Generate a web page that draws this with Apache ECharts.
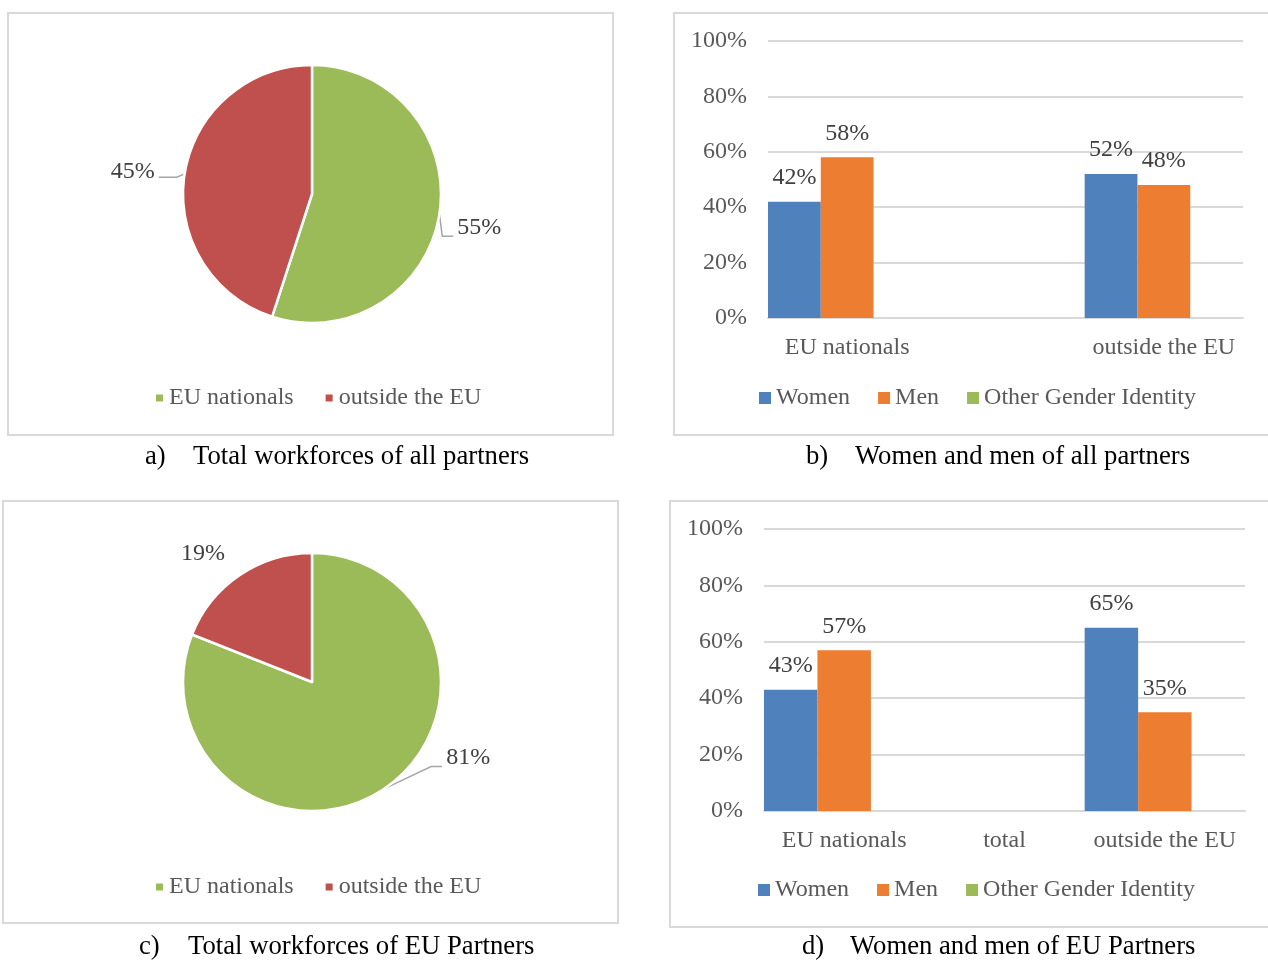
<!DOCTYPE html>
<html>
<head>
<meta charset="utf-8">
<title>Workforce composition of partners</title>
<script src="https://cdn.jsdelivr.net/npm/echarts@6/dist/echarts.min.js"></script>
<style>
  html, body { margin: 0; padding: 0; background: #ffffff; }
  #chart { width: 1268px; height: 961px; }
</style>
</head>
<body>
<div id="chart"></div>
<script>
// ---- data ----
const originNames = ['EU nationals', 'outside the EU'];
const allPartnersShare = [55, 45];   // a) total workforces of all partners
const euPartnersShare = [81, 19];    // c) total workforces of EU partners

const genderNames = ['Women', 'Men', 'Other Gender Identity'];
const allPartnersCategories = ['EU nationals', '', 'outside the EU'];
const allWomen = [42, null, 52];
const allMen = [58, null, 48];
const allOther = [null, null, null];

const euPartnersCategories = ['EU nationals', 'total', 'outside the EU'];
const euWomen = [43, null, 65];
const euMen = [57, null, 35];
const euOther = [null, null, null];

const yTicks = [0, 20, 40, 60, 80, 100];

// ---- styling ----
const FONT = "'Liberation Serif', 'Times New Roman', serif";
const FS = 24;
const AXIS_TEXT = '#595959';
const VALUE_TEXT = '#404040';
const GRID_LINE = '#d9d9d9';
const GREEN = '#9bbb59';
const RED = '#c0504d';
const BLUE = '#4f81bd';
const ORANGE = '#ed7d31';

// Offsets applied to the default outside pie labels, plus an elbow leader line.
function pieLabelLayout(shifts) {
  return function (p) {
    const s = shifts[p.dataIndex];
    const r = p.labelRect;
    const left = r.x + s[0];
    const right = r.x + r.width + s[0];
    const midY = r.y + r.height / 2 + s[1];
    const out = { dx: s[0], dy: s[1] };
    const pts = p.labelLinePoints;
    if (pts && pts.length) {
      const edge = pts[0];
      const onRight = pts[pts.length - 1][0] >= edge[0];
      out.labelLinePoints = onRight
        ? [edge, [left - 15, midY + 8.5], [left - 4, midY + 8.5]]
        : [edge, [right + 22, midY + 6], [right + 4, midY + 6]];
    }
    return out;
  };
}

function pieSeries(values, center, shifts, hideLine) {
  return {
    type: 'pie',
    center: center,
    radius: 129,
    startAngle: 90,
    clockwise: true,
    avoidLabelOverlap: false,
    silent: true,
    data: originNames.map((n, i) => ({
      name: n,
      value: values[i],
      itemStyle: { color: i === 0 ? GREEN : RED },
      labelLine: { show: !(hideLine && hideLine[i]) }
    })),
    itemStyle: { borderColor: '#ffffff', borderWidth: 2.5 },
    label: {
      show: true,
      position: 'outside',
      formatter: '{c}%',
      fontFamily: FONT,
      fontSize: FS,
      color: VALUE_TEXT
    },
    labelLine: {
      show: true,
      length: 10,
      length2: 8,
      lineStyle: { color: '#a6a6a6', width: 1.5 }
    },
    labelLayout: pieLabelLayout(shifts)
  };
}

function barSeries(name, data, color, gridIdx) {
  return {
    type: 'bar',
    name: name,
    xAxisIndex: gridIdx,
    yAxisIndex: gridIdx,
    data: data,
    barGap: '0%',
    barCategoryGap: '0%',
    itemStyle: { color: color },
    silent: true,
    label: {
      show: true,
      position: 'top',
      distance: 12,
      formatter: '{c}%',
      fontFamily: FONT,
      fontSize: FS,
      color: VALUE_TEXT
    }
  };
}

function categoryAxis(cats, gridIdx) {
  return {
    type: 'category',
    gridIndex: gridIdx,
    data: cats,
    axisTick: { show: false },
    axisLine: { lineStyle: { color: GRID_LINE, width: 2 } },
    axisLabel: { fontFamily: FONT, fontSize: FS, color: AXIS_TEXT, margin: 18, interval: 0 }
  };
}

function valueAxis(gridIdx) {
  return {
    type: 'value',
    gridIndex: gridIdx,
    min: yTicks[0],
    max: yTicks[yTicks.length - 1],
    interval: yTicks[1] - yTicks[0],
    axisLine: { show: false },
    axisTick: { show: false },
    splitLine: { lineStyle: { color: GRID_LINE, width: 2 } },
    axisLabel: { fontFamily: FONT, fontSize: FS, color: AXIS_TEXT, margin: 21, formatter: '{value}%' }
  };
}

function pieLegend(left, top) {
  return {
    left: left, top: top, padding: 0, orient: 'horizontal',
    data: originNames, icon: 'rect', itemWidth: 9, itemHeight: 9, itemGap: 30,
    selectedMode: false,
    textStyle: { fontFamily: FONT, fontSize: FS, color: AXIS_TEXT }
  };
}

function barLegend(left, top) {
  return {
    left: left, top: top, padding: 0, orient: 'horizontal',
    data: genderNames, icon: 'rect', itemWidth: 12, itemHeight: 12, itemGap: 28,
    selectedMode: false,
    textStyle: { fontFamily: FONT, fontSize: FS, color: AXIS_TEXT }
  };
}

function panelFrame(x, y, w, h) {
  return {
    type: 'rect', silent: true,
    shape: { x: x, y: y, width: w, height: h },
    style: { fill: 'none', stroke: '#d9d9d9', lineWidth: 2 }
  };
}

function caption(tag, tagX, text, textX, y) {
  const st = { fontFamily: FONT, fontSize: 26.7, fill: '#000000', verticalAlign: 'middle', align: 'left' };
  return [
    { type: 'text', silent: true, x: tagX, y: y, style: Object.assign({ text: tag }, st) },
    { type: 'text', silent: true, x: textX, y: y, style: Object.assign({ text: text }, st) }
  ];
}

const chart = echarts.init(document.getElementById('chart'), null, { renderer: 'canvas' });

chart.setOption({
  animation: false,
  backgroundColor: '#ffffff',
  graphic: [
    panelFrame(8, 13, 605, 422),
    panelFrame(674, 13, 600, 422),
    panelFrame(3, 501, 615, 422),
    panelFrame(670, 501, 604, 426)
  ].concat(
    caption('a)', 145, 'Total workforces of all partners', 193, 457),
    caption('b)', 806, 'Women and men of all partners', 855, 457),
    caption('c)', 139, 'Total workforces of EU Partners', 188, 947),
    caption('d)', 802, 'Women and men of EU Partners', 850, 947)
  ),
  legend: [
    pieLegend(154, 386),
    barLegend(759, 386),
    pieLegend(154, 875),
    barLegend(758, 878)
  ],
  grid: [
    { left: 768, right: 25, top: 41, bottom: 961 - 318 },
    { left: 764, right: 23, top: 529, bottom: 961 - 811 }
  ],
  xAxis: [categoryAxis(allPartnersCategories, 0), categoryAxis(euPartnersCategories, 1)],
  yAxis: [valueAxis(0), valueAxis(1)],
  series: [
    pieSeries(allPartnersShare, [312, 194], [[-5, 12], [-7, -1]]),
    pieSeries(euPartnersShare, [312, 682], [[43, -39], [4, -13]], [false, true]),
    barSeries(genderNames[0], allWomen, BLUE, 0),
    barSeries(genderNames[1], allMen, ORANGE, 0),
    barSeries(genderNames[2], allOther, GREEN, 0),
    barSeries(genderNames[0], euWomen, BLUE, 1),
    barSeries(genderNames[1], euMen, ORANGE, 1),
    barSeries(genderNames[2], euOther, GREEN, 1)
  ]
});
</script>
</body>
</html>
